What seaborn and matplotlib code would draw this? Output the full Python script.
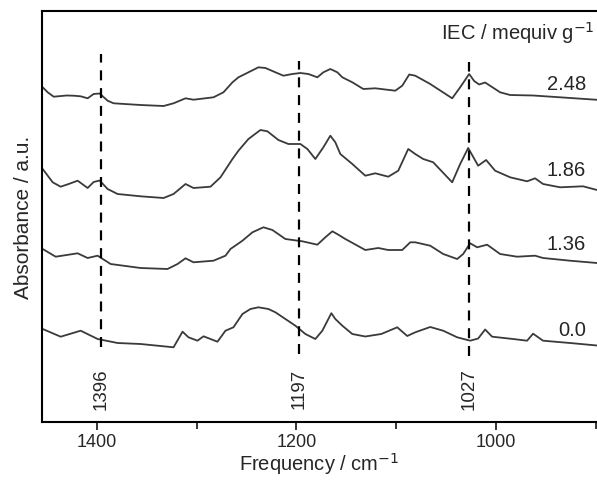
import pandas as pd
import matplotlib.pyplot as plt
import seaborn as sns
from matplotlib.ticker import MultipleLocator

# wavenumber (cm-1) / absorbance (a.u., traces already stacked)
wn_248 = [1454, 1449, 1443, 1430, 1423, 1416, 1409, 1403, 1397, 1389, 1383, 1356, 1333, 1323, 1311,
          1303, 1283, 1273, 1264, 1258, 1248, 1238, 1231, 1221, 1213, 1204, 1196, 1188, 1179, 1173,
          1166, 1159, 1154, 1144, 1133, 1121, 1101, 1094, 1087, 1081, 1066, 1044, 1036, 1027, 1022,
          1017, 1011, 996, 986, 963, 936, 899]
ab_248 = [341.7, 336.7, 332.3, 333.5, 333.3, 332.7, 330.7, 335.0, 335.5, 328.3, 325.7, 324.0, 323.0, 325.7, 330.7,
          329.3, 331.7, 336.7, 346.7, 351.7, 356.7, 361.7, 361.0, 356.7, 353.3, 355.0, 356.0, 355.0, 351.7, 356.7,
          360.0, 356.7, 351.7, 346.7, 340.0, 340.7, 338.3, 343.3, 354.5, 353.3, 345.0, 330.7, 341.7, 355.0, 348.0,
          344.5, 346.5, 336.7, 334.0, 333.5, 331.7, 329.2]

wn_186 = [1454, 1444, 1436, 1428, 1419, 1409, 1403, 1397, 1389, 1379, 1356, 1333, 1323, 1311, 1303,
          1286, 1276, 1264, 1258, 1248, 1236, 1229, 1218, 1208, 1196, 1189, 1181, 1173, 1166, 1161,
          1156, 1144, 1131, 1121, 1108, 1098, 1088, 1081, 1073, 1063, 1044, 1036, 1028, 1018, 1010,
          1001, 986, 969, 961, 953, 936, 913, 899]
ab_186 = [260.0, 246.7, 242.3, 245.0, 248.3, 241.0, 247.0, 248.5, 240.0, 235.0, 232.7, 231.0, 235.0, 245.0, 241.0,
          242.3, 251.7, 270.0, 278.3, 290.0, 299.0, 297.7, 289.0, 285.0, 285.0, 280.0, 270.0, 281.7, 293.3, 286.7,
          275.0, 265.0, 253.3, 255.7, 252.3, 258.3, 280.0, 275.0, 270.0, 266.7, 246.7, 265.0, 281.0, 263.3, 269.0,
          258.3, 251.7, 247.7, 250.7, 245.0, 241.7, 242.7, 239.0]

wn_136 = [1454, 1441, 1419, 1409, 1399, 1386, 1356, 1329, 1319, 1311, 1303, 1283, 1271, 1266, 1254,
          1244, 1233, 1224, 1211, 1194, 1179, 1171, 1164, 1158, 1151, 1131, 1118, 1108, 1094, 1086,
          1081, 1066, 1053, 1039, 1033, 1026, 1019, 1009, 996, 979, 961, 953, 926, 899]
ab_136 = [180.0, 172.3, 175.7, 171.0, 173.3, 165.0, 161.0, 160.0, 165.0, 170.7, 166.7, 168.3, 173.3, 180.0, 188.3,
          196.7, 201.7, 199.0, 190.0, 187.7, 184.3, 191.7, 197.7, 194.3, 190.0, 179.0, 181.0, 179.0, 179.0, 186.7,
          186.7, 183.3, 175.0, 170.0, 175.0, 185.7, 181.7, 184.3, 175.0, 172.3, 173.3, 171.0, 168.3, 166.0]

wn_000 = [1454, 1436, 1416, 1399, 1379, 1356, 1323, 1314, 1308, 1299, 1293, 1279, 1271, 1263, 1254,
          1246, 1238, 1228, 1221, 1211, 1201, 1191, 1181, 1174, 1165, 1161, 1154, 1144, 1131, 1115,
          1099, 1089, 1081, 1066, 1053, 1039, 1026, 1018, 1011, 1004, 983, 969, 963, 953, 926, 899]
ab_000 = [100.0, 92.3, 98.3, 90.0, 86.0, 85.0, 81.7, 97.3, 91.7, 88.3, 92.7, 87.3, 98.3, 101.7, 115.0,
          120.0, 121.7, 120.0, 116.7, 110.0, 103.3, 95.0, 90.0, 98.3, 115.8, 110.0, 103.3, 95.0, 92.5, 95.0,
          101.7, 93.0, 96.7, 102.0, 98.3, 91.7, 88.3, 90.5, 99.5, 92.3, 90.0, 88.3, 95.3, 88.3, 86.0, 83.5]

iec_labels = ['2.48', '1.86', '1.36', '0.0']
label_y = [345, 260, 185, 100]

peaks = [1396, 1197, 1027]
peak_top = [375, 368, 367]
peak_bottom = [82, 75, 73]

frames = []
for lab, w, a in zip(iec_labels, [wn_248, wn_186, wn_136, wn_000], [ab_248, ab_186, ab_136, ab_000]):
    frames.append(pd.DataFrame({'wn': w, 'ab': a, 'iec': lab}))
df = pd.concat(frames, ignore_index=True)

sns.set_style("ticks")
plt.rcParams['font.family'] = ['Liberation Sans', 'DejaVu Sans']

fig = plt.figure(figsize=(5.97, 4.81), dpi=100)
ax = fig.add_axes([41.7 / 597, 58 / 481, 1 - 41.7 / 597, (423 - 12.3) / 481])

sns.lineplot(data=df, x='wn', y='ab', hue='iec', units='iec', estimator=None, sort=False,
             palette=['#3a3a3a'] * 4, lw=1.3, legend=False, ax=ax)

ax.vlines(peaks, peak_bottom, peak_top, colors='black', linestyles=(0, (4.5, 3.5)), lw=1.6)
for p in peaks:
    ax.text(p, 41, str(p), rotation=90, ha='center', va='center', fontsize=13.5)

for lab, yl in zip(iec_labels, label_y):
    ax.text(910, yl, lab, ha='right', va='center', fontsize=14.5)
ax.text(901, 397, 'IEC / mequiv g$^{-1}$', ha='right', va='center', fontsize=14.5)

ax.set_xlim(1455, 899)
ax.set_ylim(7, 417.7)
ax.xaxis.set_major_locator(MultipleLocator(200))
ax.xaxis.set_minor_locator(MultipleLocator(100))
ax.tick_params(axis='x', which='major', length=6, width=1.3, labelsize=13, direction='out', pad=2)
ax.tick_params(axis='x', which='minor', length=5, width=1.3, direction='out')
ax.set_yticks([])
ax.spines['right'].set_visible(False)
for s in ['left', 'top', 'bottom']:
    ax.spines[s].set_linewidth(1.5)
    ax.spines[s].set_color('black')

ax.set_xlabel('Frequency / cm$^{-1}$', fontsize=14.5, labelpad=0)
ax.set_ylabel('Absorbance / a.u.', fontsize=15, labelpad=6)

fig.savefig('out.png', dpi=100)
